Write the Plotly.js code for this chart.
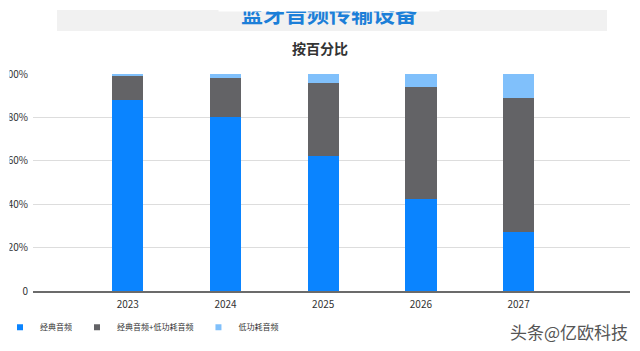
<!DOCTYPE html>
<html>
<head>
<meta charset="utf-8">
<script src="https://cdn.plot.ly/plotly-3.0.1.min.js"></script>
<style>html,body{margin:0;padding:0;background:#fff;}#chart{width:640px;height:351px;}</style>
</head>
<body>
<div id="chart"></div>
<script>
const years = ['2023', '2024', '2025', '2026', '2027'];
const classic = [88, 80, 62, 42.5, 27];
const dualMode = [11, 18, 34, 51.5, 62];
const lowPower = [1, 2, 4, 6, 11];
const seriesNames = ['经典音频', '经典音频+低功耗音频', '低功耗音频'];
const yTickVals = [0, 20, 40, 60, 80, 100];
const yTickText = ['0', '20%', '40%', '60%', '80%', '100%'];
const titleText = '蓝牙音频传输设备';
const subtitleText = '按百分比';
const watermark = '头条@亿欧科技';

const font = "'Noto Sans CJK SC', 'Noto Sans', sans-serif";
const colors = ['#0a84ff', '#636366', '#80c0fb'];
const seriesVals = [classic, dualMode, lowPower];

const traces = seriesVals.map((vals, i) => ({
  type: 'bar',
  x: years,
  y: vals,
  name: seriesNames[i],
  marker: {color: colors[i], line: {width: 0}},
  width: 0.32,
  showlegend: false,
  legendgroup: 'g' + i,
  hoverinfo: 'x+y+name'
}));
// legend entries with small square keys (same series names/colours)
seriesNames.forEach((n, i) => traces.push({
  type: 'scatter', mode: 'markers', x: [null], y: [null], name: n,
  legendgroup: 'g' + i,
  marker: {symbol: 'square', size: 6, color: colors[i]},
  showlegend: true, hoverinfo: 'skip'
}));

const layout = {
  width: 640, height: 351,
  margin: {l: 33, r: 10, t: 74, b: 60},
  paper_bgcolor: '#ffffff',
  plot_bgcolor: '#ffffff',
  barmode: 'stack',
  font: {family: font, color: '#333'},
  showlegend: true,
  legend: {
    orientation: 'h', xref: 'container', yref: 'container',
    x: 0.0, y: 0.068, xanchor: 'left', yanchor: 'middle',
    font: {size: 8, color: '#333', family: font},
    itemwidth: 30, traceorder: 'normal', itemsizing: 'trace',
    bgcolor: 'rgba(0,0,0,0)'
  },
  xaxis: {
    type: 'category',
    range: [-0.97, 5.14],
    showline: true, linecolor: '#6b6b6b', linewidth: 2,
    showgrid: false, zeroline: false, ticks: '',
    ticklabelstandoff: 3,
    tickfont: {size: 10, color: '#333', family: font},
    fixedrange: true
  },
  yaxis: {
    range: [0, 100],
    tickvals: yTickVals, ticktext: yTickText,
    showgrid: true, gridcolor: '#dddddd', gridwidth: 1,
    zeroline: false, showline: false, ticks: '',
    ticklabelstandoff: 4,
    tickfont: {size: 10, color: '#333', family: font},
    fixedrange: true
  },
  shapes: [
    {type: 'rect', xref: 'paper', yref: 'paper', x0: (57 - 33) / 597, x1: (607 - 33) / 597,
     y0: (291 - 31) / 217, y1: (291 - 10) / 217, fillcolor: '#f1f1f1', line: {width: 0}, layer: 'below'},
    {type: 'rect', xref: 'paper', yref: 'paper', x0: -33 / 597, x1: (9.5 - 33) / 597,
     y0: -0.1, y1: 1.1, fillcolor: '#ffffff', line: {width: 0}, layer: 'above'}
  ],
  annotations: [
    {text: '<b>' + titleText + '</b>', xref: 'paper', yref: 'paper',
     x: (329 - 33) / 597, y: (291 - 12) / 217, xanchor: 'center', yanchor: 'middle',
     showarrow: false, font: {size: 22, color: '#1c7fd8', family: font}},
    {text: ' ', xref: 'paper', yref: 'paper', x: (329 - 33) / 597, y: 291 / 217,
     xanchor: 'center', yanchor: 'top', width: 220, height: 10, borderpad: 0,
     bgcolor: '#ffffff', showarrow: false},
    {text: '<b>' + subtitleText + '</b>', xref: 'paper', yref: 'paper',
     x: (320 - 33) / 597, y: (291 - 48) / 217, xanchor: 'center', yanchor: 'middle',
     showarrow: false, font: {size: 14, color: '#333', family: font}},
    {text: watermark, xref: 'paper', yref: 'paper',
     x: (630 - 33) / 597, y: (291 - 331) / 217, xanchor: 'right', yanchor: 'middle',
     showarrow: false, font: {size: 17, color: '#555', family: font}}
  ]
};

Plotly.newPlot('chart', traces, layout, {displayModeBar: false, staticPlot: true});
</script>
</body>
</html>
